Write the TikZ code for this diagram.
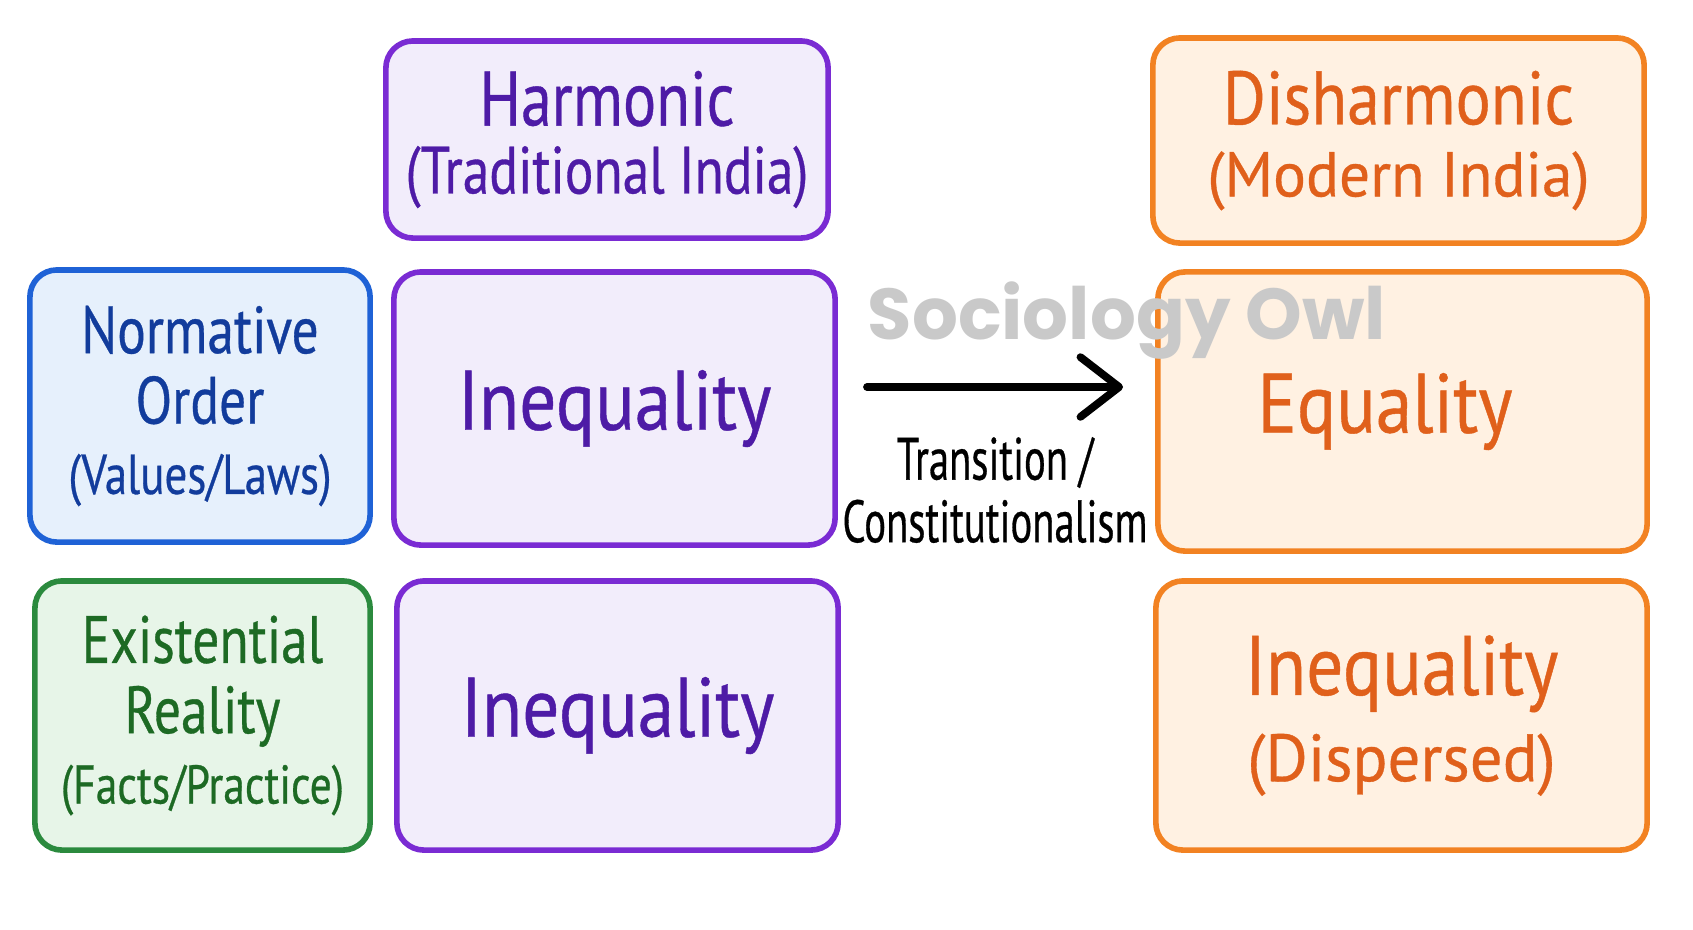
\documentclass[tikz,border=0pt]{standalone}
\usepackage{fontspec}
\setmainfont{PT Sans}
\newfontfamily\handfont[FakeStretch=0.8, FakeBold=0.5]{PT Sans}
\newfontfamily\bighand[FakeStretch=0.87, FakeBold=0.5]{PT Sans}
\newfontfamily\widehand[FakeStretch=0.97, FakeBold=0.5]{PT Sans}
\newfontfamily\narrowhand[FakeStretch=0.68, FakeBold=0.5]{PT Sans}
\newfontfamily\owlfont{Poppins}
\usetikzlibrary{arrows.meta}

\definecolor{harmline}{HTML}{7A2BD3}
\definecolor{harmfill}{HTML}{F2EDFB}
\definecolor{harmtext}{HTML}{4E1BA6}
\definecolor{normline}{HTML}{1F62D6}
\definecolor{normfill}{HTML}{E6F0FC}
\definecolor{normtext}{HTML}{123C9C}
\definecolor{existline}{HTML}{2B8A3E}
\definecolor{existfill}{HTML}{E7F5E8}
\definecolor{existtext}{HTML}{1D6A24}
\definecolor{modline}{HTML}{F28222}
\definecolor{modfill}{HTML}{FFF1E2}
\definecolor{modtext}{HTML}{E0601B}
\definecolor{owlgray}{HTML}{C9C9C9}

\tikzset{
	card/.style={draw, rounded corners=0.27cm, line width=1.6pt, align=center, inner sep=0pt},
	harmcard/.style={card, draw=harmline, fill=harmfill, text=harmtext},
	normcard/.style={card, draw=normline, fill=normfill, text=normtext},
	existcard/.style={card, draw=existline, fill=existfill, text=existtext},
	modcard/.style={card, draw=modline, fill=modfill, text=modtext},
}
\newcommand{\linesz}[3]{{\fontsize{#1}{#2}\selectfont #3}}

\begin{document}
\begin{tikzpicture}[x=0.01cm, y=-0.01cm]
	\useasboundingbox (0,0) rectangle (1693,929);
	% top row
	\node[harmcard, minimum width=4.42cm, minimum height=1.97cm, font=\handfont\fontsize{22}{19.3}\selectfont] (harm) at (607,139.5) {Harmonic\\\linesz{19}{19}{(Traditional India)}};
	\node[modcard, minimum width=4.91cm, minimum height=2.05cm, font=\bighand\fontsize{21.5}{20.5}\selectfont] (dish) at (1398.5,140.5) {Disharmonic\\\linesz{18}{18}{\widehand (Modern India)}};
	% middle row
	\node[normcard, minimum width=3.40cm, minimum height=2.72cm, font=\handfont\fontsize{19}{20}\selectfont] (norm) at (200,406) {Normative\\Order\\\linesz{16}{16}{(Values/Laws)}};
	\node[harmcard, minimum width=4.41cm, minimum height=2.73cm, font=\bighand\fontsize{24}{24}\selectfont] (ineqa) at (614.5,408.5) {Inequality};
	\node[modcard, minimum width=4.89cm, minimum height=2.79cm, font=\bighand\fontsize{24}{24}\selectfont] (equal) at (1402.5,411.5) {Equality\hspace*{0.35cm}};
	% bottom row
	\node[existcard, minimum width=3.35cm, minimum height=2.69cm, font=\handfont\fontsize{19}{20}\selectfont] (exist) at (202.5,715.5) {Existential\\Reality\\\linesz{15.5}{15.5}{(Facts/Practice)}};
	\node[harmcard, minimum width=4.41cm, minimum height=2.69cm, font=\bighand\fontsize{24}{24}\selectfont] (ineqb) at (617.5,715.5) {Inequality};
	\node[modcard, minimum width=4.91cm, minimum height=2.69cm, font=\bighand\fontsize{24}{24.5}\selectfont] (ineqc) at (1401.5,715.5) {Inequality\\\linesz{19}{19}{\widehand (Dispersed)}};
	% transition
	\coordinate (trs) at (867,387);
	\coordinate (tre) at (1123,387);
	\draw[-{Straight Barb[length=11pt, width=17pt, round]}, line width=2.2pt, line cap=round] (trs) -- (tre);
	\node[font=\narrowhand\fontsize{17}{17.8}\selectfont, align=center] (trlab) at (995,490) {Transition /\\Constitutionalism};
	\node[text=owlgray, font=\owlfont\bfseries\fontsize{20.5}{20.5}\selectfont] (owl) at (1127,321) {Sociology Owl};
\end{tikzpicture}
\end{document}
